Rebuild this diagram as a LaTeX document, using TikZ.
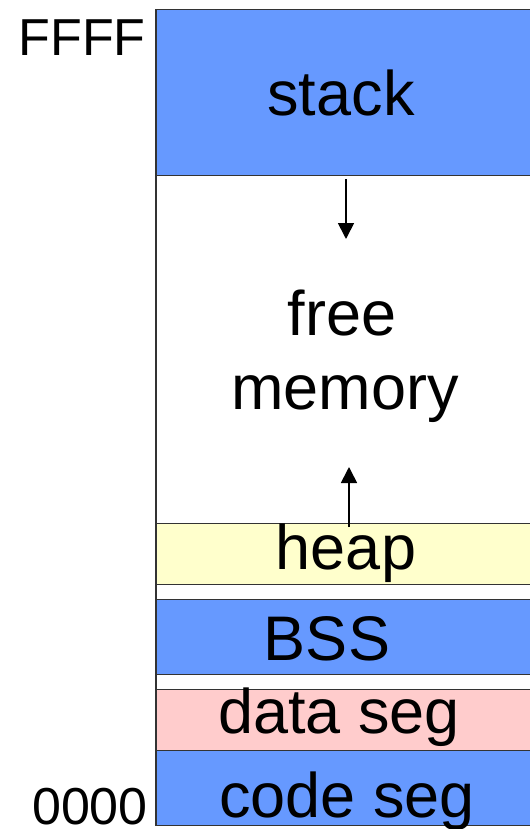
\documentclass[tikz,border=0pt]{standalone}
\usepackage{fontspec}
\setmainfont{Liberation Sans}
\usetikzlibrary{arrows.meta}

\definecolor{segblue}{HTML}{6699FF}
\definecolor{heapyellow}{HTML}{FFFFCC}
\definecolor{datapink}{HTML}{FFCCCC}
\definecolor{edgegray}{HTML}{333333}

\tikzset{
  seg/.style={draw=edgegray, line width=1.2bp, rectangle, inner sep=0pt,
    minimum width=420bp, anchor=north west},
  lbl/.style={anchor=base, inner sep=0pt, font=\fontsize{63bp}{75bp}\selectfont},
  addr/.style={anchor=base, inner sep=0pt, font=\fontsize{52bp}{60bp}\selectfont},
  growth/.style={line width=1.7bp, -{Triangle[width=16bp,length=16bp]}},
}

\begin{document}
\begin{tikzpicture}[x=1bp, y=-1bp]
  \useasboundingbox (0,0) rectangle (530,829);
  \clip (0,0) rectangle (530,829);

  % memory segments, top address down to bottom address
  \node[seg, fill=segblue,    minimum height=166bp] (stack) at (156,9)   {};
  \node[seg, fill=white,      minimum height=348bp] (free)  at (156,175) {};
  \node[seg, fill=heapyellow, minimum height=61bp]  (heap)  at (156,523) {};
  \node[seg, fill=segblue,    minimum height=75bp]  (bss)   at (156,599) {};
  \node[seg, fill=datapink,   minimum height=61bp]  (data)  at (156,689) {};
  \node[seg, fill=segblue,    minimum height=75bp]  (code)  at (156,750) {};

  % left edge of the address space
  \draw[edgegray, line width=1.2bp] (stack.north west) -- (code.south west);

  % segment names
  \node[lbl] (stacktxt) at (341,115) {stack};
  \node[lbl] (freetxt)  at (342,335) {free};
  \node[lbl] (memtxt)   at (345,409) {memory};
  \node[lbl] (heaptxt)  at (346,569) {heap};
  \node[lbl] (bsstxt)   at (327,660) {BSS};
  \node[lbl] (datatxt)  at (339,733) {data seg};
  \node[lbl] (codetxt)  at (347,817) {code seg};

  % address bounds
  \node[addr] (hi) at (82,55)  {FFFF};
  \node[addr] (lo) at (90,824) {0000};

  % growth directions of stack and heap
  \coordinate (stackfrom) at (346,179);
  \coordinate (stackto)   at (346,239);
  \coordinate (heapfrom)  at (349,527);
  \coordinate (heapto)    at (349,467);
  \draw[growth] (stackfrom) -- (stackto);
  \draw[growth] (heapfrom) -- (heapto);
\end{tikzpicture}
\end{document}
